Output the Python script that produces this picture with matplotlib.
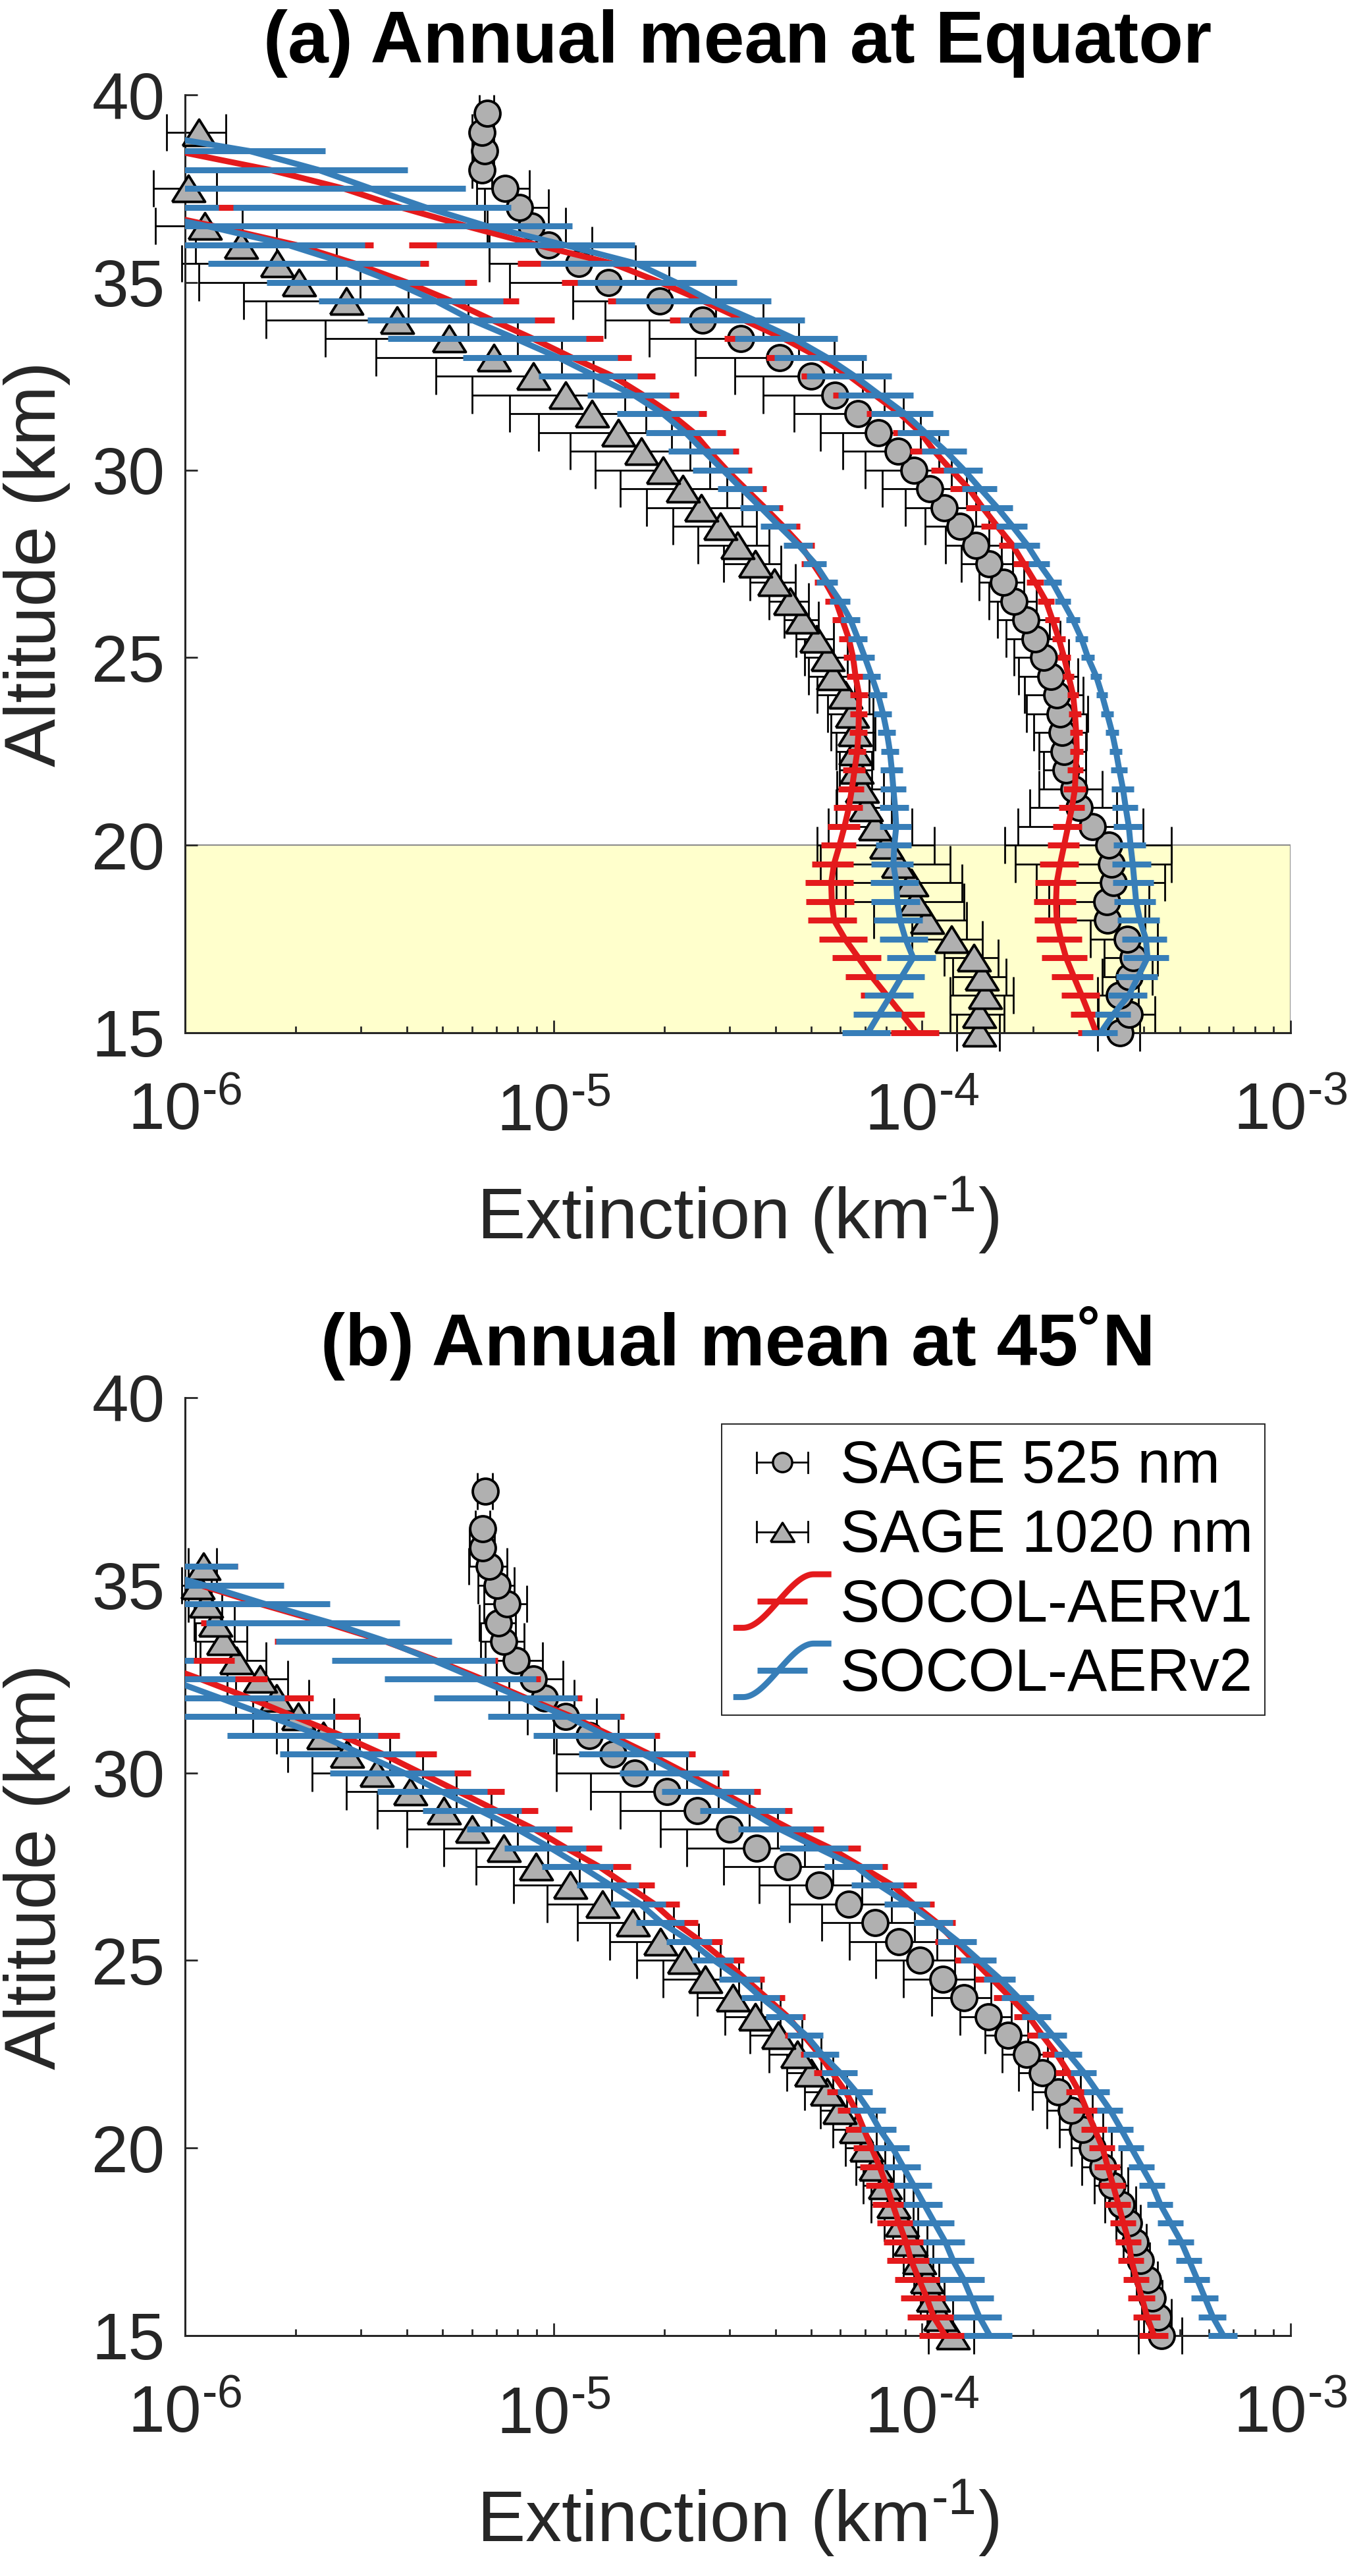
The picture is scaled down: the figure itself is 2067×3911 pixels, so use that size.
import numpy as np
import matplotlib
matplotlib.use('Agg')
import matplotlib.pyplot as plt
from matplotlib.lines import Line2D
from matplotlib.patches import Rectangle
from matplotlib.legend_handler import HandlerBase
from matplotlib.ticker import FixedLocator, LogLocator, NullFormatter

plt.rcParams['font.family'] = ['Liberation Sans', 'DejaVu Sans']
plt.rcParams['mathtext.fontset'] = 'custom'
plt.rcParams['mathtext.rm'] = 'Liberation Sans'
plt.rcParams['mathtext.default'] = 'regular'

nan = np.nan

altitude = [15.0, 15.5, 16.0, 16.5, 17.0, 17.5, 18.0, 18.5, 19.0, 19.5,
            20.0, 20.5, 21.0, 21.5, 22.0, 22.5, 23.0, 23.5, 24.0, 24.5,
            25.0, 25.5, 26.0, 26.5, 27.0, 27.5, 28.0, 28.5, 29.0, 29.5,
            30.0, 30.5, 31.0, 31.5, 32.0, 32.5, 33.0, 33.5, 34.0, 34.5,
            35.0, 35.5, 36.0, 36.5, 37.0, 37.5, 38.0, 38.5, 39.0, 39.5]

# ---- (a) Equator ----
sage525_eq = [3.45e-4, 3.65e-4, 3.43e-4, 3.65e-4, 3.74e-4, 3.61e-4, 3.19e-4, 3.17e-4, 3.30e-4, 3.27e-4,
              3.21e-4, 2.90e-4, 2.67e-4, 2.58e-4, 2.46e-4, 2.43e-4, 2.40e-4, 2.37e-4, 2.32e-4, 2.24e-4,
              2.14e-4, 2.03e-4, 1.91e-4, 1.78e-4, 1.66e-4, 1.52e-4, 1.40e-4, 1.27e-4, 1.15e-4, 1.05e-4,
              9.5e-5, 8.6e-5, 7.6e-5, 6.7e-5, 5.8e-5, 5.0e-5, 4.1e-5, 3.22e-5, 2.54e-5, 1.94e-5,
              1.41e-5, 1.17e-5, 9.7e-6, 8.7e-6, 8.1e-6, 7.4e-6, 6.4e-6, 6.5e-6, 6.4e-6, 6.6e-6]
sage525_eq_err = [4.5e-5, 6.4e-5, 4.3e-5, 5.7e-5, 6.2e-5, 7.5e-5, 8.4e-5, 9.6e-5, 1.26e-4, 1.48e-4,
                  1.53e-4, 1.08e-4, 7.1e-5, 5.0e-5, 3.2e-5, 3.5e-5, 3.9e-5, 4.5e-5, 4.2e-5, 4.1e-5,
                  3.6e-5, 3.4e-5, 3.1e-5, 2.6e-5, 2.3e-5, 2.4e-5, 2.4e-5, 2.5e-5, 2.5e-5, 2.7e-5,
                  2.5e-5, 2.5e-5, 2.3e-5, 2.2e-5, 2.1e-5, 1.9e-5, 1.67e-5, 1.4e-5, 1.16e-5, 8.1e-6,
                  6.5e-6, 5.0e-6, 3.0e-6, 2.1e-6, 1.6e-6, 1.2e-6, 4e-7, 4e-7, 4e-7, 3e-7]
sage1020_eq = [1.43e-4, 1.43e-4, 1.48e-4, 1.45e-4, 1.38e-4, 1.20e-4, 1.03e-4, 9.6e-5, 9.35e-5, 8.6e-5,
               8.0e-5, 7.47e-5, 7.05e-5, 6.88e-5, 6.64e-5, 6.6e-5, 6.55e-5, 6.45e-5, 6.2e-5, 5.74e-5,
               5.54e-5, 5.16e-5, 4.73e-5, 4.38e-5, 3.97e-5, 3.52e-5, 3.16e-5, 2.83e-5, 2.52e-5, 2.24e-5,
               1.98e-5, 1.73e-5, 1.50e-5, 1.27e-5, 1.08e-5, 8.8e-6, 6.9e-6, 5.2e-6, 3.76e-6, 2.74e-6,
               2.04e-6, 1.78e-6, 1.42e-6, 1.13e-6, nan, 1.02e-6, nan, nan, 1.09e-6, nan]
sage1020_eq_err = [1.9e-5, 2.4e-5, 2.9e-5, 2.4e-5, 2.3e-5, 2.6e-5, 2.9e-5, 3.4e-5, 3.5e-5, 3.3e-5,
                   2.8e-5, 1.9e-5, 1.2e-5, 1.0e-5, 6.7e-6, 7.6e-6, 9.0e-6, 9.0e-6, 1.0e-5, 8.1e-6,
                   7.4e-6, 6.0e-6, 5.0e-6, 5.4e-6, 5.6e-6, 6.2e-6, 6.9e-6, 7.2e-6, 7.3e-6, 7.2e-6,
                   6.8e-6, 6.2e-6, 5.9e-6, 5.1e-6, 4.8e-6, 4.0e-6, 3.6e-6, 2.8e-6, 2.1e-6, 1.3e-6,
                   9.5e-7, 8e-7, 3.5e-7, 3e-7, nan, 2e-7, nan, nan, 2e-7, nan]
v1_525_eq = [2.97e-4, 2.84e-4, 2.71e-4, 2.58e-4, 2.46e-4, 2.38e-4, 2.32e-4, 2.31e-4, 2.32e-4, 2.37e-4,
             2.43e-4, 2.49e-4, 2.55e-4, 2.60e-4, 2.61e-4, 2.63e-4, 2.62e-4, 2.60e-4, 2.57e-4, 2.50e-4,
             2.43e-4, 2.35e-4, 2.26e-4, 2.17e-4, 2.03e-4, 1.89e-4, 1.76e-4, 1.60e-4, 1.46e-4, 1.34e-4,
             1.20e-4, 1.08e-4, 9.9e-5, 8.71e-5, 7.44e-5, 6.36e-5, 5.26e-5, 4.22e-5, 3.28e-5, 2.55e-5,
             1.95e-5, 1.45e-5, 9.0e-6, 5.8e-6, 3.85e-6, 2.7e-6, 1.7e-6, 9.5e-7, 5.5e-7, nan]
v2_525_eq = [3.05e-4, 3.31e-4, 3.64e-4, 3.86e-4, 4.09e-4, 4.05e-4, 3.90e-4, 3.81e-4, 3.77e-4, 3.73e-4,
             3.68e-4, 3.64e-4, 3.57e-4, 3.51e-4, 3.43e-4, 3.36e-4, 3.28e-4, 3.18e-4, 3.08e-4, 2.97e-4,
             2.82e-4, 2.71e-4, 2.57e-4, 2.41e-4, 2.26e-4, 2.08e-4, 1.93e-4, 1.76e-4, 1.60e-4, 1.44e-4,
             1.30e-4, 1.16e-4, 1.02e-4, 8.99e-5, 7.68e-5, 6.57e-5, 5.52e-5, 4.5e-5, 3.5e-5, 2.68e-5,
             2.15e-5, 1.68e-5, 1.07e-5, 6.6e-6, 4.5e-6, 3.2e-6, 2.3e-6, 1.5e-6, 7.5e-7, nan]
v1_1020_eq = [9.68e-5, 8.81e-5, 8.02e-5, 7.3e-5, 6.72e-5, 6.18e-5, 5.77e-5, 5.69e-5, 5.67e-5, 5.77e-5,
              5.97e-5, 6.16e-5, 6.33e-5, 6.45e-5, 6.56e-5, 6.67e-5, 6.72e-5, 6.74e-5, 6.75e-5, 6.6e-5,
              6.5e-5, 6.33e-5, 6.08e-5, 5.84e-5, 5.47e-5, 5.06e-5, 4.68e-5, 4.2e-5, 3.74e-5, 3.32e-5,
              2.95e-5, 2.65e-5, 2.4e-5, 2.08e-5, 1.75e-5, 1.45e-5, 1.12e-5, 8.8e-6, 6.8e-6, 5.3e-6,
              4.0e-6, 2.9e-6, 2.0e-6, 1.2e-6, 7e-7, nan, nan, nan, nan, nan]
v2_1020_eq = [7.13e-5, 7.65e-5, 8.22e-5, 8.81e-5, 9.46e-5, 9.02e-5, 8.71e-5, 8.57e-5, 8.51e-5, 8.36e-5,
              8.41e-5, 8.51e-5, 8.45e-5, 8.36e-5, 8.28e-5, 8.18e-5, 8.03e-5, 7.84e-5, 7.6e-5, 7.3e-5,
              7.0e-5, 6.7e-5, 6.4e-5, 6.0e-5, 5.54e-5, 5.13e-5, 4.62e-5, 4.1e-5, 3.65e-5, 3.24e-5,
              2.88e-5, 2.56e-5, 2.28e-5, 1.98e-5, 1.65e-5, 1.3e-5, 1.03e-5, 7.9e-6, 6.0e-6, 4.8e-6,
              3.7e-6, 2.75e-6, 1.9e-6, 1.15e-6, 6.5e-7, nan, nan, nan, nan, nan]
# model spread (1 sigma) as a fraction of the mean
spread_525_eq = [.11, .11, .12, .13, .14, .14, .13, .13, .125, .12,
                 .10, .09, .08, .07, .05, .04, .04, .04, .035, .035,
                 .04, .04, .045, .05, .055, .065, .08, .095, .10, .11,
                 .12, .14, .16, .19, .23, .26, .28, .31, .37, .45,
                 .46, .45, .55, .70, .70, .80, .75, .60, .30, nan]
spread_1020_eq = [.15, .15, .15, .15, .15, .15, .15, .15, .15, .13,
                  .11, .10, .09, .08, .07, .055, .055, .055, .055, .055,
                  .06, .06, .06, .065, .065, .07, .09, .11, .12, .14,
                  .17, .20, .22, .25, .25, .30, .45, .55, .48, .52,
                  .55, .58, .62, .80, .90, nan, nan, nan, nan, nan]

# ---- (b) 45N ----
sage525_45n = [4.47e-4, 4.37e-4, 4.22e-4, 4.09e-4, 3.92e-4, 3.79e-4, 3.64e-4, 3.47e-4, 3.28e-4, 3.09e-4,
               2.90e-4, 2.73e-4, 2.54e-4, 2.34e-4, 2.12e-4, 1.92e-4, 1.71e-4, 1.51e-4, 1.30e-4, 1.14e-4,
               9.88e-5, 8.66e-5, 7.45e-5, 6.32e-5, 5.25e-5, 4.31e-5, 3.55e-5, 3.0e-5, 2.46e-5, 2.03e-5,
               1.66e-5, 1.45e-5, 1.25e-5, 1.08e-5, 9.46e-6, 8.81e-6, 7.93e-6, 7.33e-6, 7.08e-6, 7.47e-6,
               7.03e-6, 6.68e-6, 6.42e-6, 6.43e-6, nan, 6.52e-6, nan, nan, nan, nan]
sage525_45n_err = [6.0e-5, 3.7e-5, 2.7e-5, 2.7e-5, 2.2e-5, 2.7e-5, 2.8e-5, 3.3e-5, 3.4e-5, 3.8e-5,
                   3.6e-5, 3.7e-5, 3.6e-5, 3.5e-5, 2.9e-5, 2.7e-5, 2.3e-5, 2.4e-5, 2.4e-5, 2.5e-5,
                   2.4e-5, 2.3e-5, 2.1e-5, 1.96e-5, 1.63e-5, 1.42e-5, 1.25e-5, 1.05e-5, 9.4e-6, 7.7e-6,
                   6.4e-6, 4.3e-6, 2.5e-6, 2.3e-6, 1.9e-6, 1.8e-6, 1.4e-6, 1.0e-6, 8e-7, 1.0e-6,
                   8e-7, 8e-7, 5e-7, 3e-7, nan, 3e-7, nan, nan, nan, nan]
sage1020_45n = [1.21e-4, 1.12e-4, 1.07e-4, 1.03e-4, 9.81e-5, 9.33e-5, 8.83e-5, 8.38e-5, 7.93e-5, 7.5e-5,
                7.07e-5, 6.62e-5, 5.96e-5, 5.53e-5, 5.01e-5, 4.59e-5, 4.07e-5, 3.52e-5, 3.06e-5, 2.58e-5,
                2.26e-5, 1.95e-5, 1.64e-5, 1.36e-5, 1.11e-5, 8.96e-6, 7.33e-6, 6.0e-6, 5.04e-6, 4.09e-6,
                3.31e-6, 2.75e-6, 2.37e-6, 2.03e-6, 1.77e-6, 1.60e-6, 1.38e-6, 1.27e-6, 1.21e-6, 1.14e-6,
                1.08e-6, 1.12e-6, nan, nan, nan, nan, nan, nan, nan, nan]
sage1020_45n_err = [1.7e-5, 9e-6, 8e-6, 8e-6, 9.1e-6, 1.0e-5, 9.3e-6, 1.1e-5, 1.0e-5, 8.8e-6,
                    8.7e-6, 9e-6, 6.6e-6, 7.3e-6, 7.1e-6, 7.4e-6, 6.6e-6, 6.0e-6, 6.0e-6, 6.0e-6,
                    5.8e-6, 5.3e-6, 4.8e-6, 4.0e-6, 3.3e-6, 2.8e-6, 2.3e-6, 2.0e-6, 1.72e-6, 1.35e-6,
                    1.1e-6, 8.5e-7, 6e-7, 5e-7, 4e-7, 3e-7, 2.8e-7, 2e-7, 1.5e-7, 1.2e-7,
                    1e-7, 1e-7, nan, nan, nan, nan, nan, nan, nan, nan]
v1_525_45n = [4.26e-4, 4.08e-4, 3.95e-4, 3.82e-4, 3.70e-4, 3.64e-4, 3.52e-4, 3.41e-4, 3.30e-4, 3.19e-4,
              3.09e-4, 2.94e-4, 2.80e-4, 2.67e-4, 2.50e-4, 2.32e-4, 2.12e-4, 1.95e-4, 1.74e-4, 1.55e-4,
              1.38e-4, 1.23e-4, 1.10e-4, 9.49e-5, 8.32e-5, 6.84e-5, 5.62e-5, 4.4e-5, 3.52e-5, 2.85e-5,
              2.28e-5, 1.82e-5, 1.43e-5, 1.12e-5, 8.4e-6, 6.4e-6, 4.8e-6, 3.5e-6, 2.4e-6, 1.6e-6,
              1.1e-6, 7.5e-7, nan, nan, nan, nan, nan, nan, nan, nan]
v2_525_45n = [6.57e-4, 6.15e-4, 5.86e-4, 5.58e-4, 5.31e-4, 5.05e-4, 4.73e-4, 4.43e-4, 4.22e-4, 3.95e-4,
              3.70e-4, 3.47e-4, 3.245e-4, 2.99e-4, 2.755e-4, 2.50e-4, 2.263e-4, 2.05e-4, 1.829e-4, 1.631e-4,
              1.43e-4, 1.254e-4, 1.082e-4, 9.19e-5, 7.67e-5, 6.62e-5, 5.2e-5, 4.11e-5, 3.37e-5, 2.73e-5,
              2.19e-5, 1.75e-5, 1.38e-5, 1.09e-5, 8.18e-6, 6.21e-6, 4.72e-6, 3.53e-6, 2.48e-6, 1.65e-6,
              1.13e-6, 7.5e-7, nan, nan, nan, nan, nan, nan, nan, nan]
v1_1020_45n = [1.156e-4, 1.075e-4, 1.03e-4, 9.81e-5, 9.34e-5, 9.04e-5, 8.66e-5, 8.32e-5, 8.0e-5, 7.67e-5,
               7.30e-5, 6.95e-5, 6.62e-5, 6.20e-5, 5.71e-5, 5.26e-5, 4.77e-5, 4.32e-5, 3.79e-5, 3.32e-5,
               2.91e-5, 2.52e-5, 2.14e-5, 1.88e-5, 1.58e-5, 1.33e-5, 1.08e-5, 8.86e-6, 6.99e-6, 5.52e-6,
               4.36e-6, 3.44e-6, 2.65e-6, 1.98e-6, 1.49e-6, 1.10e-6, 8e-7, nan, nan, nan,
               nan, nan, nan, nan, nan, nan, nan, nan, nan, nan]
v2_1020_45n = [1.527e-4, 1.43e-4, 1.361e-4, 1.296e-4, 1.214e-4, 1.156e-4, 1.082e-4, 1.013e-4, 9.49e-5, 8.89e-5,
               8.32e-5, 7.67e-5, 7.18e-5, 6.62e-5, 6.0e-5, 5.35e-5, 4.85e-5, 4.25e-5, 3.67e-5, 3.22e-5,
               2.73e-5, 2.355e-5, 1.967e-5, 1.72e-5, 1.43e-5, 1.19e-5, 9.8e-6, 7.97e-6, 6.3e-6, 4.97e-6,
               3.93e-6, 3.02e-6, 2.32e-6, 1.70e-6, 1.24e-6, 9e-7, 6.2e-7, nan, nan, nan,
               nan, nan, nan, nan, nan, nan, nan, nan, nan, nan]
spread_525_45n = [.09, .085, .085, .08, .08, .08, .08, .08, .08, .08,
                  .08, .08, .08, .08, .08, .085, .09, .09, .10, .10,
                  .11, .12, .12, .14, .16, .18, .21, .23, .26, .28,
                  .31, .33, .36, .39, .42, .44, .47, .50, .54, .50,
                  .64, .85, nan, nan, nan, nan, nan, nan, nan, nan]
spread_1020_45n = [.15, .15, .15, .14, .14, .13, .13, .12, .12, .115,
                   .11, .11, .11, .11, .11, .11, .11, .115, .12, .125,
                   .13, .14, .15, .17, .19, .22, .25, .27, .30, .33,
                   .37, .40, .44, .50, .50, .52, .70, nan, nan, nan,
                   nan, nan, nan, nan, nan, nan, nan, nan, nan, nan]

xticks = [1e-6, 1e-5, 1e-4, 1e-3]
xticklabels = ['$10^{\u20106}$', '$10^{\u20105}$', '$10^{\u20104}$', '$10^{\u20103}$']
yticks = [15, 20, 25, 30, 35, 40]

RED = '#E41A1C'
BLUE = '#377EB8'
GREY = '#B0B0B0'
AXC = '#262626'
TRI = [(-1, -0.8), (1, -0.8), (0, 0.8), (-1, -0.8)]


class ObsKey:
    def __init__(self, marker, ms):
        self.marker = marker
        self.ms = ms


class ModelKey:
    def __init__(self, color):
        self.color = color


class HandlerObs(HandlerBase):
    def create_artists(self, legend, h, xd, yd, w, ht, fs, trans):
        y = ht / 2 - yd
        x0, x1, xc = -xd + 0.24 * w, -xd + 0.76 * w, -xd + 0.5 * w
        c = 0.17 * fs
        arts = [Line2D([x0, x1], [y, y], color='k', lw=2),
                Line2D([x0, x0], [y - c, y + c], color='k', lw=2),
                Line2D([x1, x1], [y - c, y + c], color='k', lw=2),
                Line2D([xc], [y], marker=h.marker, ms=h.ms, mfc=GREY, mec='k', mew=2.5, ls='none')]
        for a in arts:
            a.set_transform(trans)
        return arts


class HandlerModel(HandlerBase):
    def create_artists(self, legend, h, xd, yd, w, ht, fs, trans):
        yc = ht / 2 - yd
        amp = 0.45 * fs
        t = np.linspace(0, 1, 80)
        s = np.clip((t - 0.1) / 0.72, 0, 1)
        s = s * s * (3 - 2 * s)
        curve = Line2D(-xd + t * w, yc - amp + 2 * amp * s, color=h.color, lw=6.5,
                       solid_capstyle='butt')
        bar = Line2D([-xd + 0.245 * w, -xd + 0.755 * w], [yc, yc], color=h.color, lw=6.5,
                     solid_capstyle='butt')
        for a in (curve, bar):
            a.set_transform(trans)
        return [curve, bar]


def draw_panel(ax, title, obs525, err525, obs1020, err1020, m525, m1020, spread525, spread1020,
               band=False):
    alt = np.array(altitude)
    ax.set_xscale('log')
    ax.set_xlim(1e-6, 1e-3)
    ax.set_ylim(15, 40)

    if band:
        ax.axhspan(15, 20, facecolor='#FFFFCC', edgecolor='#8C8C8C', lw=1.5, zorder=0)

    clip = Rectangle((0, -0.02), 1.0, 1.04, transform=ax.transAxes)

    for vals, errs, mk, ms in ((obs525, err525, 'o', 28), (obs1020, err1020, TRI, 36)):
        v = np.array(vals)
        e = np.array(errs)
        eb = ax.errorbar(v, alt, xerr=e, fmt='none', ecolor='k', elinewidth=2.0,
                         capsize=20, capthick=2.0, zorder=2)
        for art in eb.lines[1] + eb.lines[2]:
            art.set_clip_on(False)
        ax.plot(v, alt, ls='none', marker=mk, ms=ms, mfc=GREY, mec='k', mew=2.8,
                clip_on=False, zorder=3)

    for k, color in ((0, RED), (1, BLUE)):
        for vals, spread in ((m525[k], spread525), (m1020[k], spread1020)):
            v = np.array(vals)
            e = v * np.array(spread)
            eb = ax.errorbar(v, alt, xerr=e, fmt='-', color=color, lw=6.5, elinewidth=6.5,
                             capsize=0, zorder=4 + k)
            eb.lines[0].set_clip_path(clip)
            eb.lines[0].set_solid_capstyle('butt')
            for col in eb.lines[2]:
                col.set_clip_path(clip)
                col.set_capstyle('butt')

    ax.set_title(title, fontsize=80, fontweight='bold', color='k', y=1.0, pad=35)
    ax.set_xlabel('Extinction (km$^{\u20101}$)', fontsize=79, color=AXC, labelpad=34)
    ax.set_ylabel('Altitude (km)', fontsize=79, color=AXC, labelpad=23)

    ax.xaxis.set_major_locator(FixedLocator(xticks))
    ax.set_xticklabels(xticklabels)
    ax.xaxis.set_minor_locator(LogLocator(base=10, subs=np.arange(2, 10)))
    ax.xaxis.set_minor_formatter(NullFormatter())
    ax.set_yticks(yticks)
    ax.tick_params(axis='both', which='major', direction='in', length=14, width=2,
                   color=AXC, labelcolor=AXC, labelsize=72)
    ax.tick_params(axis='x', which='major', pad=54)
    ax.tick_params(axis='y', which='major', pad=22)
    ax.tick_params(axis='x', which='minor', direction='in', length=7, width=2, color=AXC)
    ax.spines['top'].set_visible(False)
    ax.spines['right'].set_visible(False)
    for sp in ('left', 'bottom'):
        ax.spines[sp].set_color(AXC)
        ax.spines[sp].set_linewidth(2.2)


fig = plt.figure(figsize=(20.67, 39.11), dpi=100)
ax_a = fig.add_axes([0.13595, 0.59908, 0.81229, 0.36410])
ax_b = fig.add_axes([0.13595, 0.09333, 0.81229, 0.36410])

draw_panel(ax_a, '(a) Annual mean at Equator', sage525_eq, sage525_eq_err,
           sage1020_eq, sage1020_eq_err, (v1_525_eq, v2_525_eq), (v1_1020_eq, v2_1020_eq),
           spread_525_eq, spread_1020_eq, band=True)
draw_panel(ax_b, '(b) Annual mean at 45\u02daN', sage525_45n, sage525_45n_err,
           sage1020_45n, sage1020_45n_err, (v1_525_45n, v2_525_45n), (v1_1020_45n, v2_1020_45n),
           spread_525_45n, spread_1020_45n)

handles = [ObsKey('o', 21), ObsKey(TRI, 26), ModelKey(RED), ModelKey(BLUE)]
labels = ['SAGE 525 nm', 'SAGE 1020 nm', 'SOCOL-AERv1', 'SOCOL-AERv2']
leg = ax_b.legend(handles, labels, loc='upper right', bbox_to_anchor=(0.977, 0.972),
                  borderaxespad=0, fontsize=65, handlelength=1.65, handleheight=1.0,
                  handletextpad=0.15, labelspacing=0.165, borderpad=0.2, fancybox=False,
                  framealpha=1, edgecolor=AXC,
                  handler_map={ObsKey: HandlerObs(), ModelKey: HandlerModel()})
leg.get_frame().set_linewidth(1.4)

fig.savefig('out.png', dpi=100)
